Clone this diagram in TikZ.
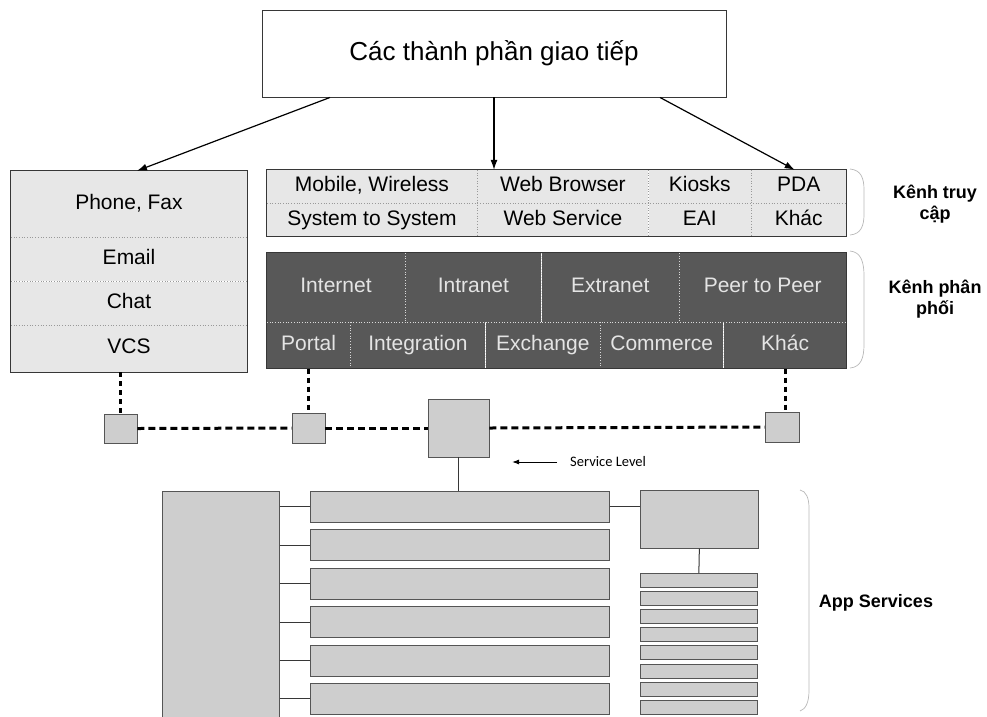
\documentclass[tikz,border=0pt]{standalone}
\usepackage{fontspec}
\setmainfont{Liberation Sans}
\newfontfamily\levelfont{Carlito}
\usetikzlibrary{arrows.meta,positioning,calc}
\definecolor{paleface}{RGB}{231,231,231}
\definecolor{darkband}{RGB}{88,88,88}
\definecolor{lighttext}{RGB}{228,228,228}
\definecolor{midgray}{RGB}{206,206,206}
\definecolor{edgegray}{RGB}{55,55,55}

\begin{document}
\begin{tikzpicture}[x=1pt, y=-1pt,
  frame/.style={draw=edgegray, line width=0.9pt},
  cell/.style={fill=paleface, inner sep=0pt, text height=15pt, text depth=4.5pt, font=\fontsize{21}{23}\selectfont},
  darkcell/.style={fill=darkband, text=lighttext, inner sep=0pt, text height=15pt, text depth=4.5pt, font=\fontsize{21}{23}\selectfont},
  divider/.style={draw=gray!80, dotted, line width=0.7pt},
  grayblock/.style={fill=midgray, draw=edgegray!85, line width=0.7pt, inner sep=0pt},
  linkline/.style={draw=edgegray, line width=1pt},
  feed/.style={draw=black, line width=1.2pt, -{Latex[length=10pt,width=7pt]}},
  busline/.style={draw=black, line width=3pt, dash pattern=on 7pt off 4pt},
  dropline/.style={draw=black, line width=3pt, dash pattern=on 5pt off 4pt},
  bracket/.style={draw=gray!55, line width=0.7pt},
  sidelabel/.style={font=\bfseries\fontsize{18}{21}\selectfont, align=center}
]
\useasboundingbox (0,0) rectangle (987,716);
\clip (0,0) rectangle (987,716);
\fill[white] (0,0) rectangle (987,716);

% communication components
\node[frame, fill=white, minimum width=464, minimum height=87, text height=19pt, text depth=6pt, font=\fontsize{26}{28}\selectfont] (top) at (494,53.5) {Các thành phần giao tiếp};

% direct channels
\node[cell, minimum width=236, minimum height=66] (phone) at (129,204) {Phone, Fax};
\node[cell, minimum width=236, minimum height=44, below=0pt of phone] (email) {Email};
\node[cell, minimum width=236, minimum height=43, below=0pt of email] (chat) {Chat};
\node[cell, minimum width=236, minimum height=47, below=0pt of chat] (vcs) {VCS};
\draw[divider] (phone.south west) -- (phone.south east);
\draw[divider] (email.south west) -- (email.south east);
\draw[divider] (chat.south west) -- (chat.south east);
\draw[frame] (phone.north west) rectangle (vcs.south east);

% access channels
\node[cell, minimum width=210, minimum height=33] (mobile) at (372,186.5) {Mobile, Wireless};
\node[cell, minimum width=171, minimum height=33, right=0pt of mobile] (browser) {Web Browser};
\node[cell, minimum width=102, minimum height=33, right=0pt of browser] (kiosks) {Kiosks};
\node[cell, minimum width=95, minimum height=33, right=0pt of kiosks] (pda) {PDA};
\node[cell, minimum width=210, minimum height=33, below=0pt of mobile] (system) {System to System};
\node[cell, minimum width=171, minimum height=33, right=0pt of system] (websvc) {Web Service};
\node[cell, minimum width=102, minimum height=33, right=0pt of websvc] (eai) {EAI};
\node[cell, minimum width=95, minimum height=33, right=0pt of eai] (khacA) {Khác};
\draw[divider] (mobile.south west) -- (pda.south east);
\foreach \c in {mobile,browser,kiosks}
  \draw[divider] (\c.north east) -- (\c.south east |- system.south);
\draw[frame] (mobile.north west) rectangle (khacA.south east);

% distribution channels
\node[darkcell, minimum width=138, minimum height=69] (internet) at (336,287.5) {Internet};
\node[darkcell, minimum width=136, minimum height=69, right=0pt of internet] (intranet) {Intranet};
\node[darkcell, minimum width=137, minimum height=69, right=0pt of intranet] (extranet) {Extranet};
\node[darkcell, minimum width=167, minimum height=69, right=0pt of extranet] (peer) {Peer to Peer};
\node[darkcell, minimum width=83, minimum height=46, anchor=north west] (portal) at (internet.south west) {Portal};
\node[darkcell, minimum width=135, minimum height=46, right=0pt of portal] (integ) {Integration};
\node[darkcell, minimum width=114, minimum height=46, right=0pt of integ] (exch) {Exchange};
\node[darkcell, minimum width=123, minimum height=46, right=0pt of exch] (comm) {Commerce};
\node[darkcell, minimum width=123, minimum height=46, right=0pt of comm] (khacB) {Khác};
\draw[divider, draw=gray!30] (internet.south west) -- (peer.south east);
\foreach \c in {internet,intranet,extranet}
  \draw[divider, draw=gray!30] (\c.north east) -- (\c.south east);
\foreach \c in {portal,integ,exch,comm}
  \draw[divider, draw=gray!30] (\c.north east) -- (\c.south east);
\draw[frame] (internet.north west) rectangle (khacB.south east);

% side labels
\draw[bracket] (850,169) .. controls (861,170) and (864,178) .. (864,190) -- (864,214) .. controls (864,226) and (861,234) .. (850,235);
\draw[bracket] (850,251) .. controls (861,252) and (864,262) .. (864,276) -- (864,344) .. controls (864,358) and (861,367) .. (850,368);
\node[sidelabel] (access) at (935,204) {Kênh truy\\cập};
\node[sidelabel] (distrib) at (935,299) {Kênh phân\\phối};

% arrows from top
\draw[feed] ([xshift=-164]top.south) -- ([xshift=8]phone.north);
\draw[feed] (top.south) -- (top.south |- browser.north);
\draw[feed] ([xshift=166]top.south) -- ([xshift=-4]pda.north);

% service bus
\node[grayblock, minimum width=33, minimum height=29] (sqa) at (120.5,428.5) {};
\node[grayblock, minimum width=33, minimum height=30] (sqb) at (308.5,428) {};
\node[grayblock, minimum width=61, minimum height=58] (hub) at (458.5,428) {};
\node[grayblock, minimum width=34, minimum height=30] (sqc) at (782,427) {};
\draw[dropline] (sqa.north |- vcs.south) -- (sqa.north);
\draw[dropline] (portal.south) -- (sqb.north);
\draw[dropline] (khacB.south) -- (khacB.south |- sqc.north);
\draw[busline] (sqa.east) -- (sqb.west);
\draw[busline] (sqb.east) -- (hub.west);
\draw[busline] (hub.east) -- (sqc.west);

\node[font=\levelfont\fontsize{14.5}{16}\selectfont, anchor=west, inner sep=0pt] (level) at (570,462) {Service Level};
\coordinate (levtip) at (512,462);
\draw[line width=1pt, -{Latex[length=7pt,width=5pt]}, shorten <=13pt] (level.west) -- (levtip);

% app services
\node[grayblock, minimum width=117, minimum height=240, anchor=north west] (store) at (162,491) {};
\foreach \i in {1,...,6}
  \node[grayblock, minimum width=299, minimum height=31, anchor=north west] (bar\i) at (310,{491+(\i-1)*38.4}) {};
\foreach \i in {1,...,6}
  \draw[linkline] (store.east |- bar\i.west) -- (bar\i.west);
\draw[linkline] (hub.south) -- (hub.south |- bar1.north);
\node[grayblock, minimum width=118, minimum height=58, anchor=north west] (apphead) at (640,490) {};
\draw[linkline] (bar1.east) -- (bar1.east -| apphead.west);
\foreach \i in {1,...,8}
  \node[grayblock, minimum width=117, minimum height=14, anchor=north west] (slot\i) at (640,{573+(\i-1)*18.1}) {};
\draw[linkline] (apphead.south) -- (slot1.north);

\draw[bracket] (800,490) .. controls (806,491) and (809,498) .. (809,508) -- (809,690) .. controls (809,702) and (806,709) .. (800,711);
\node[sidelabel] (apps) at (876,603) {App Services};
\end{tikzpicture}
\end{document}
